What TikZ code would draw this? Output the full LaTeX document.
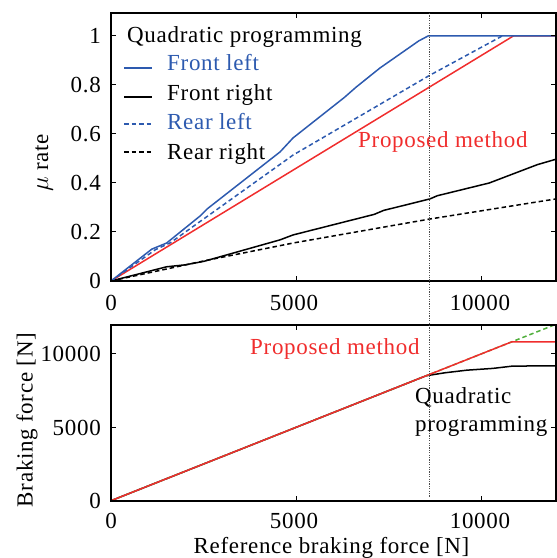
\documentclass[tikz,border=0pt]{standalone}
\usepackage{fontspec}
\setmainfont{Liberation Serif}[LetterSpace=3]
\usepackage{tikz}
\usetikzlibrary{positioning}
\definecolor{qpblue}{RGB}{45, 90, 175}
\definecolor{pmred}{RGB}{240, 45, 45}
\definecolor{refgreen}{RGB}{80, 175, 60}

\begin{document}
\begin{tikzpicture}[x=1pt, y=1pt, font=\fontsize{23}{26}\selectfont,
    axisbox/.style={line width=2pt},
    curve/.style={line width=1.5pt},
    dashcurve/.style={line width=1.5pt, dash pattern=on 4.5pt off 3pt},
    ticklab/.style={inner sep=0pt},
    markline/.style={line width=0.8pt, gray!60!black, dash pattern=on 1.2pt off 1.2pt}]
        \useasboundingbox (0,0) rectangle (557,558);
        % upper plot: mu rate
        \begin{scope}[shift={(111,277)}, x=37.08pt, y=245pt]
            \draw[curve, pmred] (0,0) -- (10.85,1) -- (12,1);
            \draw[curve, black] (0,0) -- (1.5,0.058) -- (2.0,0.066) -- (2.5,0.08) -- (4.56,0.168) -- (4.91,0.188) -- (7.1,0.272) -- (7.35,0.288) -- (8.6,0.335) -- (8.8,0.348) -- (10.2,0.40) -- (11.5,0.475) -- (12,0.497);
            \draw[dashcurve, black] (0,0) -- (2.6,0.085) -- (4.91,0.155) -- (8.6,0.253) -- (12,0.335);
            \draw[dashcurve, qpblue] (0,0) -- (1.2,0.128) -- (1.6,0.156) -- (4.91,0.514) -- (8.6,0.84) -- (10.55,1);
            \draw[curve, qpblue] (0,0) -- (1.1,0.13) -- (1.5,0.155) -- (2.4,0.265) -- (2.6,0.295) -- (4.56,0.527) -- (4.91,0.584) -- (6.3,0.75) -- (6.6,0.79) -- (7.25,0.869) -- (8.3,0.98) -- (8.55,1) -- (12,1);
            \draw[axisbox] (0,0) rectangle (12,1.094);
            \foreach \v in {0.2,0.4,0.6,0.8,1} {
                \draw[line width=1pt] (0,\v) -- ++(5pt,0);
                \draw[line width=1pt] (12,\v) -- ++(-5pt,0);
            }
            \foreach \u in {5,10} {
                \draw[line width=1pt] (\u,0) -- ++(0,5pt);
                \draw[line width=1pt] (\u,1.094) -- ++(0,-5pt);
            }
            \coordinate (dtop) at (8.6,1.094);
        \end{scope}
        % lower plot: braking force
        \begin{scope}[shift={(111,57.3)}, x=37.08pt, y=14.7pt]
            \draw[curve, black] (0,0) -- (8.5,8.5) -- (9.0,8.7) -- (9.6,8.88) -- (10.3,9.0) -- (10.84,9.16) -- (12,9.17);
            \draw[dashcurve, refgreen] (0,0) -- (11.95,11.95);
            \draw[curve, pmred] (0,0) -- (10.8,10.8) -- (12,10.8);
            \draw[axisbox] (0,0) rectangle (12,11.95);
            \foreach \v in {5,10} {
                \draw[line width=1pt] (0,\v) -- ++(5pt,0);
                \draw[line width=1pt] (12,\v) -- ++(-5pt,0);
                \draw[line width=1pt] (\v,0) -- ++(0,5pt);
                \draw[line width=1pt] (\v,11.95) -- ++(0,-5pt);
            }
            \coordinate (dbot) at (8.6,0.25);
        \end{scope}
        \draw[markline] (dtop) -- (dbot);
        % legend
        \node[ticklab, anchor=base west] (qptitle) at (127,515) {Quadratic programming};
        \coordinate (lg1) at (124,490);
        \coordinate (lg2) at (124,461);
        \coordinate (lg3) at (124,434);
        \coordinate (lg4) at (124,406);
        \draw[curve, qpblue] (lg1) -- ++(28,0);
        \draw[curve, black] (lg2) -- ++(28,0);
        \draw[dashcurve, qpblue] (lg3) -- ++(28,0);
        \draw[dashcurve, black] (lg4) -- ++(28,0);
        \node[ticklab, anchor=base west, text=qpblue] (fl) at (167,487.3) {Front left};
        \node[ticklab, anchor=base west] (fr) at (167,457.3) {Front right};
        \node[ticklab, anchor=base west, text=qpblue] (rl) at (167,428) {Rear left};
        \node[ticklab, anchor=base west] (rr) at (167,398) {Rear right};
        \node[ticklab, anchor=base west, text=pmred] (pmtop) at (358,410) {Proposed method};
        % lower labels
        \node[ticklab, anchor=base west, text=pmred] (pmbot) at (250,203) {Proposed method};
        \node[ticklab, anchor=base west] (qpbot1) at (415,154.7) {Quadratic};
        \node[ticklab, anchor=base west] (qpbot2) at (415,126.3) {programming};
        % tick labels
        \node[ticklab, anchor=east] (yt1) at (101,522) {1};
        \node[ticklab, anchor=east] (yt08) at (101,473) {0.8};
        \node[ticklab, anchor=east] (yt06) at (101,424) {0.6};
        \node[ticklab, anchor=east] (yt04) at (101,375) {0.4};
        \node[ticklab, anchor=east] (yt02) at (101,326) {0.2};
        \node[ticklab, anchor=east] (yt0) at (101,277) {0};
        \node[ticklab] (xt0) at (111,255.5) {0};
        \node[ticklab] (xt5) at (294,255.5) {5000};
        \node[ticklab] (xt10) at (480,255.5) {10000};
        \node[ticklab, anchor=east] (bt10) at (101,204) {10000};
        \node[ticklab, anchor=east] (bt5) at (101,130.3) {5000};
        \node[ticklab, anchor=east] (bt0) at (101,57.3) {0};
        \node[ticklab] (bx0) at (111,37.5) {0};
        \node[ticklab] (bx5) at (294,37.5) {5000};
        \node[ticklab] (bx10) at (480,37.5) {10000};
        % axis titles
        \node[ticklab, rotate=90] (ylabtop) at (44,395) {$\mu$ rate};
        \node[ticklab, rotate=90] (ylabbot) at (27,138) {Braking force [N]};
        \node[ticklab, anchor=base] (xlab) at (331.5,4.5) {Reference braking force [N]};
\end{tikzpicture}
\end{document}
